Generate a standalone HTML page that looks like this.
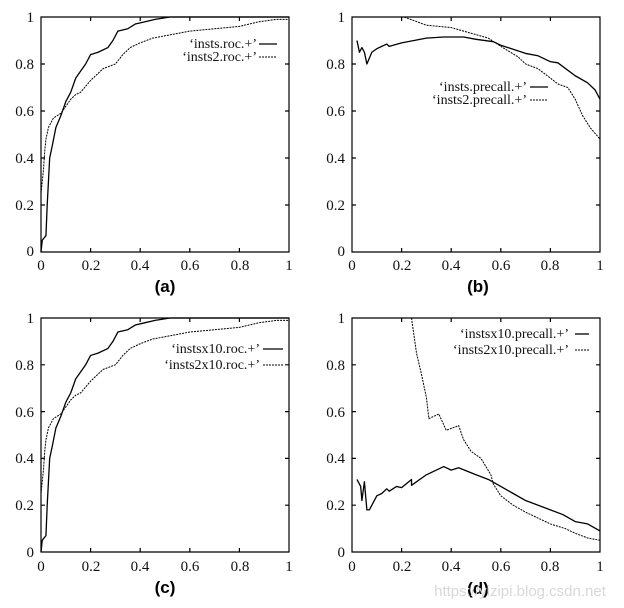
<!DOCTYPE html>
<html><head><meta charset="utf-8"><style>
html,body{margin:0;padding:0;background:#fff;}
svg{display:block;}
.t{font-family:"Liberation Serif",serif;font-size:15px;fill:#111;}
.c{font-family:"Liberation Sans",sans-serif;font-size:17px;font-weight:bold;fill:#000;}
.l{font-family:"Liberation Serif",serif;font-size:14px;fill:#111;}
.s{fill:none;stroke:#000;stroke-width:1.3;vector-effect:non-scaling-stroke;stroke-linejoin:round;}
.d{fill:none;stroke:#000;stroke-width:1;stroke-dasharray:2 1;vector-effect:non-scaling-stroke;}
.f{fill:none;stroke:#000;stroke-width:1.2;vector-effect:non-scaling-stroke;}
</style></head><body>
<svg width="624" height="608" viewBox="0 0 624 608" xmlns="http://www.w3.org/2000/svg">
<defs>
<g id="frame">
<rect x="0" y="0" width="1" height="1" class="f"/>
<path class="f" d="M0.2,0V0.017M0.4,0V0.017M0.6,0V0.017M0.8,0V0.017M0.2,1V0.983M0.4,1V0.983M0.6,1V0.983M0.8,1V0.983M0,0.2H0.016M0,0.4H0.016M0,0.6H0.016M0,0.8H0.016M1,0.2H0.984M1,0.4H0.984M1,0.6H0.984M1,0.8H0.984"/>
</g>
<g id="roc1"><polyline class="s" points="0,0 0.005,0.05 0.02,0.07 0.025,0.2 0.03,0.3 0.035,0.4 0.045,0.45 0.06,0.53 0.08,0.58 0.1,0.64 0.12,0.68 0.14,0.74 0.16,0.77 0.18,0.8 0.2,0.84 0.23,0.85 0.27,0.87 0.29,0.9 0.31,0.94 0.35,0.95 0.38,0.97 0.42,0.98 0.46,0.99 0.52,1 1,1"/></g>
<g id="roc2"><polyline class="d" points="0,0.25 0.005,0.3 0.01,0.35 0.015,0.43 0.02,0.48 0.03,0.53 0.05,0.57 0.08,0.59 0.1,0.62 0.12,0.65 0.14,0.67 0.16,0.68 0.2,0.73 0.25,0.78 0.3,0.8 0.33,0.84 0.36,0.87 0.4,0.89 0.45,0.91 0.5,0.92 0.6,0.94 0.7,0.95 0.8,0.96 0.88,0.98 0.95,0.99 1,0.99"/></g>
</defs>

<g transform="translate(41,252) scale(248,-235)">
<use href="#frame"/><use href="#roc1"/><use href="#roc2"/>
</g>
<g class="t" text-anchor="end">
<text x="34" y="22">1</text><text x="34" y="69">0.8</text><text x="34" y="116">0.6</text><text x="34" y="163">0.4</text><text x="34" y="210">0.2</text><text x="34" y="256">0</text>
</g>
<g class="t" text-anchor="middle">
<text x="41" y="270">0</text><text x="91" y="270">0.2</text><text x="140" y="270">0.4</text><text x="190" y="270">0.6</text><text x="240" y="270">0.8</text><text x="289" y="270">1</text>
</g>
<text class="l" x="257" y="48" text-anchor="end">‘insts.roc.+’</text><line x1="259" y1="44" x2="277" y2="44" stroke="#000" stroke-width="1.3"/>
<text class="l" x="257" y="61" text-anchor="end">‘insts2.roc.+’</text><line x1="259" y1="57" x2="277" y2="57" stroke="#000" stroke-width="1" stroke-dasharray="2 1"/>
<text class="c" x="165" y="292" text-anchor="middle">(a)</text>

<g transform="translate(352,252) scale(248,-235)">
<use href="#frame"/>
<polyline class="s" points="0.02,0.9 0.03,0.85 0.04,0.87 0.05,0.85 0.06,0.8 0.08,0.85 0.1,0.865 0.14,0.885 0.15,0.875 0.2,0.89 0.3,0.91 0.37,0.915 0.45,0.915 0.5,0.905 0.57,0.895 0.6,0.88 0.7,0.845 0.75,0.835 0.8,0.81 0.83,0.805 0.9,0.75 0.95,0.72 0.98,0.69 1,0.65"/>
<polyline class="d" points="0.21,1 0.3,0.965 0.35,0.96 0.4,0.955 0.45,0.94 0.5,0.925 0.55,0.91 0.6,0.875 0.67,0.83 0.7,0.8 0.75,0.78 0.8,0.74 0.83,0.715 0.87,0.7 0.9,0.65 0.93,0.58 0.96,0.53 1,0.48"/>
</g>
<g class="t" text-anchor="end">
<text x="345" y="22">1</text><text x="345" y="69">0.8</text><text x="345" y="116">0.6</text><text x="345" y="163">0.4</text><text x="345" y="210">0.2</text><text x="345" y="256">0</text>
</g>
<g class="t" text-anchor="middle">
<text x="352" y="270">0</text><text x="402" y="270">0.2</text><text x="451" y="270">0.4</text><text x="501" y="270">0.6</text><text x="550" y="270">0.8</text><text x="600" y="270">1</text>
</g>
<text class="l" x="527" y="91" text-anchor="end">‘insts.precall.+’</text><line x1="530" y1="87" x2="548" y2="87" stroke="#000" stroke-width="1.3"/>
<text class="l" x="527" y="104" text-anchor="end">‘insts2.precall.+’</text><line x1="530" y1="100" x2="548" y2="100" stroke="#000" stroke-width="1" stroke-dasharray="2 1"/>
<text class="c" x="478" y="292" text-anchor="middle">(b)</text>

<g transform="translate(41,552) scale(248,-234)">
<use href="#frame"/><use href="#roc1"/><use href="#roc2"/>
</g>
<g class="t" text-anchor="end">
<text x="34" y="323">1</text><text x="34" y="370">0.8</text><text x="34" y="417">0.6</text><text x="34" y="463">0.4</text><text x="34" y="510">0.2</text><text x="34" y="557">0</text>
</g>
<g class="t" text-anchor="middle">
<text x="41" y="571">0</text><text x="91" y="571">0.2</text><text x="140" y="571">0.4</text><text x="190" y="571">0.6</text><text x="240" y="571">0.8</text><text x="289" y="571">1</text>
</g>
<text class="l" x="260" y="353" text-anchor="end">‘instsx10.roc.+’</text><line x1="263" y1="349" x2="283" y2="349" stroke="#000" stroke-width="1.3"/>
<text class="l" x="260" y="369" text-anchor="end">‘insts2x10.roc.+’</text><line x1="263" y1="365" x2="283" y2="365" stroke="#000" stroke-width="1" stroke-dasharray="2 1"/>
<text class="c" x="165" y="593" text-anchor="middle">(c)</text>

<g transform="translate(352,552) scale(248,-234)">
<use href="#frame"/>
<polyline class="s" points="0.02,0.31 0.035,0.28 0.04,0.22 0.05,0.3 0.06,0.18 0.07,0.18 0.1,0.24 0.12,0.25 0.14,0.27 0.15,0.26 0.18,0.28 0.2,0.275 0.24,0.31 0.24,0.285 0.3,0.33 0.37,0.365 0.4,0.35 0.43,0.36 0.5,0.33 0.55,0.31 0.6,0.28 0.65,0.25 0.7,0.22 0.8,0.18 0.85,0.16 0.9,0.13 0.95,0.12 1,0.09"/>
<polyline class="d" points="0.24,1 0.26,0.85 0.28,0.76 0.3,0.66 0.31,0.57 0.35,0.59 0.38,0.52 0.43,0.54 0.45,0.48 0.48,0.43 0.52,0.4 0.56,0.33 0.57,0.29 0.6,0.24 0.65,0.2 0.7,0.17 0.8,0.12 0.86,0.1 0.9,0.08 0.95,0.06 1,0.05"/>
</g>
<g class="t" text-anchor="end">
<text x="345" y="323">1</text><text x="345" y="370">0.8</text><text x="345" y="417">0.6</text><text x="345" y="463">0.4</text><text x="345" y="510">0.2</text><text x="345" y="557">0</text>
</g>
<g class="t" text-anchor="middle">
<text x="352" y="571">0</text><text x="402" y="571">0.2</text><text x="451" y="571">0.4</text><text x="501" y="571">0.6</text><text x="550" y="571">0.8</text><text x="600" y="571">1</text>
</g>
<text class="l" x="569" y="338" text-anchor="end">‘instsx10.precall.+’</text><line x1="575" y1="334" x2="589" y2="334" stroke="#000" stroke-width="1.3"/>
<text class="l" x="569" y="354" text-anchor="end">‘insts2x10.precall.+’</text><line x1="575" y1="350" x2="589" y2="350" stroke="#000" stroke-width="1" stroke-dasharray="2 1"/>
<text class="c" x="478" y="594" text-anchor="middle">(d)</text>
<text x="520" y="596" text-anchor="middle" style="font-family:'Liberation Sans',sans-serif;font-size:15px;fill:#d8d8d8">https://yizipi.blog.csdn.net</text>
</svg>
</body></html>
